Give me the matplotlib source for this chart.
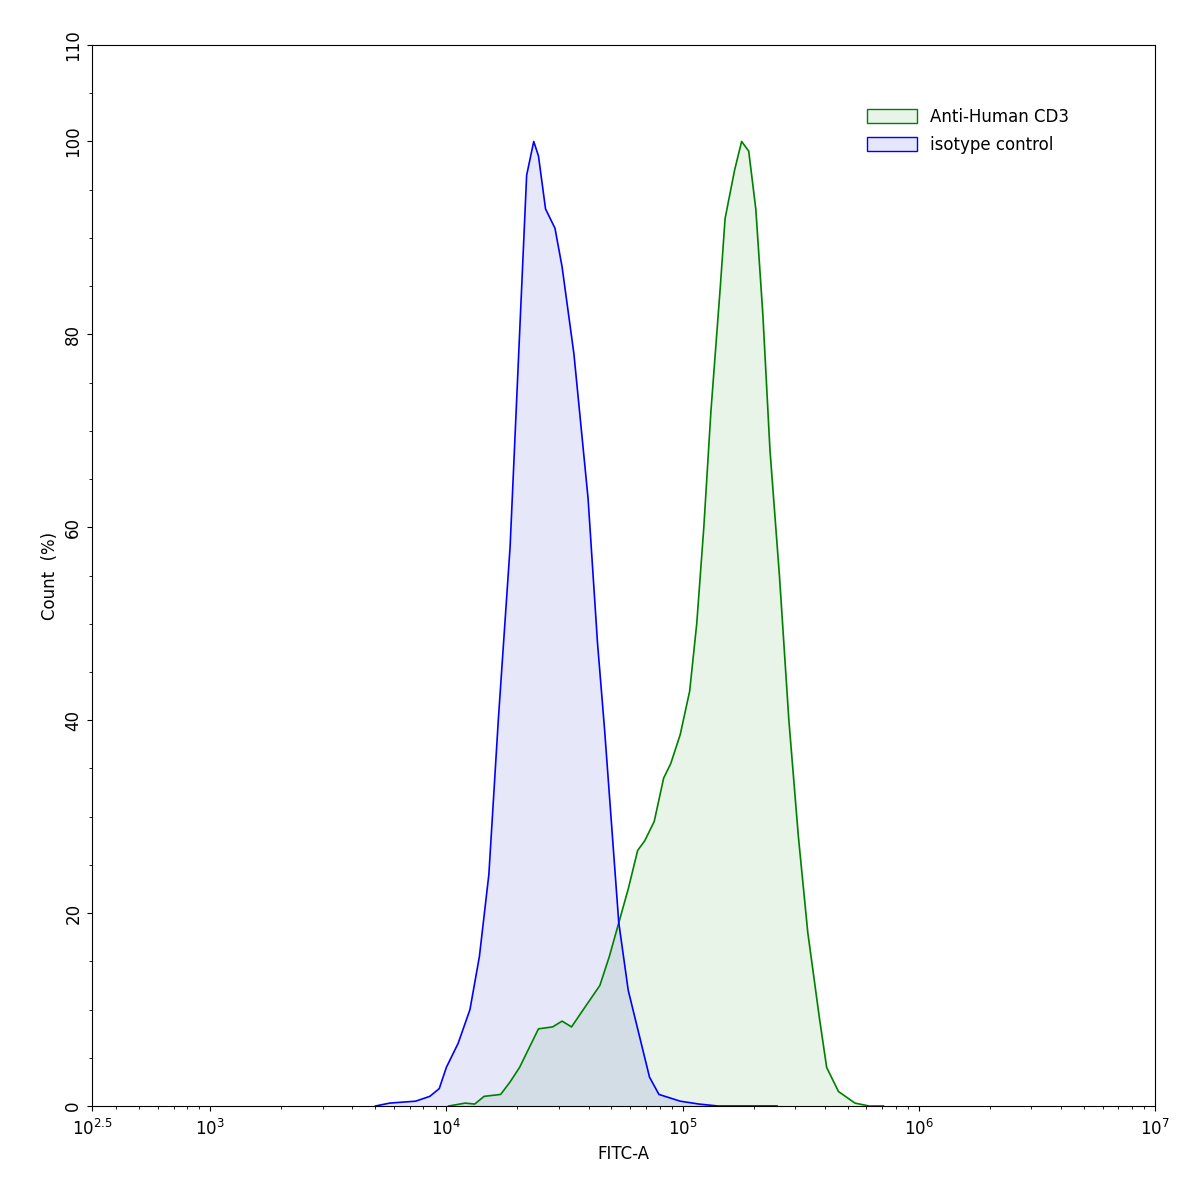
import numpy as np
import matplotlib.pyplot as plt
from matplotlib.ticker import FixedLocator, MultipleLocator, LogLocator, NullFormatter

# log10(FITC-A) and count (%)
iso_logx = [3.70, 3.76, 3.87, 3.93, 3.97, 4.00, 4.05, 4.10, 4.14, 4.18, 4.22, 4.27, 4.31, 4.34, 4.37,
            4.39, 4.42, 4.46, 4.49, 4.54, 4.60, 4.64, 4.67, 4.70, 4.73, 4.77, 4.82, 4.86, 4.90, 4.99,
            5.07, 5.15, 5.40]
iso_y = [0, 0.3, 0.5, 1, 1.8, 4, 6.5, 10, 15.5, 24, 40, 58, 80, 96.5, 100,
         98.5, 93, 91, 87, 78, 63, 48, 39, 29, 19, 12, 7, 3, 1.2, 0.5,
         0.2, 0, 0]
cd3_logx = [4.01, 4.08, 4.12, 4.16, 4.23, 4.27, 4.31, 4.35, 4.39, 4.45, 4.49, 4.53, 4.58, 4.65, 4.69,
            4.73, 4.77, 4.81, 4.84, 4.88, 4.92, 4.95, 4.99, 5.03, 5.06, 5.09, 5.12, 5.16, 5.18, 5.22,
            5.25, 5.28, 5.31, 5.34, 5.37, 5.41, 5.45, 5.49, 5.53, 5.58, 5.61, 5.66, 5.73, 5.79, 5.85]
cd3_y = [0, 0.3, 0.2, 1, 1.2, 2.5, 4, 6, 8, 8.2, 8.8, 8.2, 10, 12.5, 15.5,
         19, 22.5, 26.5, 27.5, 29.5, 34, 35.5, 38.5, 43, 50, 60, 72, 85, 92, 97,
         100, 99, 93, 82, 68, 55, 40, 28, 18, 9, 4, 1.5, 0.3, 0, 0]

fig = plt.figure(figsize=(11.97, 11.93), dpi=100)
ax = fig.add_axes([92/1197, 1-1106/1193, (1155-92)/1197, (1106-45)/1193])

x_cd3 = 10 ** np.array(cd3_logx)
x_iso = 10 ** np.array(iso_logx)
ax.fill_between(x_cd3, cd3_y, color='#e8f4e8')
ax.fill_between(x_iso, iso_y, color='#6060e0', alpha=0.15, lw=0)
ax.plot(x_cd3, cd3_y, color='green', lw=1.2)
ax.plot(x_iso, iso_y, color='blue', lw=1.2)

ax.set_xscale('log')
ax.set_xlim(10**2.5, 1e7)
ax.set_ylim(0, 110)
ax.xaxis.set_major_locator(FixedLocator([10**2.5, 1e3, 1e4, 1e5, 1e6, 1e7]))
ax.set_xticklabels(['$10^{2.5}$', '$10^3$', '$10^4$', '$10^5$', '$10^6$', '$10^7$'])
ax.xaxis.set_minor_locator(LogLocator(base=10, subs=np.arange(2, 10), numticks=20))
ax.xaxis.set_minor_formatter(NullFormatter())
ax.yaxis.set_major_locator(MultipleLocator(20))
ax.yaxis.set_minor_locator(MultipleLocator(5))
ax.set_yticks(list(range(0, 101, 20)) + [110])
plt.setp(ax.get_yticklabels(), rotation=90, va='center')
ax.tick_params(labelsize=12)
ax.tick_params(axis='x', pad=6)
ax.set_xlabel('FITC-A', fontsize=12)
ax.set_ylabel('Count  (%)', fontsize=12)

h1 = plt.Rectangle((0, 0), 1, 1, fc='#e8f4e8', ec='green')
h2 = plt.Rectangle((0, 0), 1, 1, fc='#e6e6fb', ec='blue')
ax.legend([h1, h2], ['Anti-Human CD3', 'isotype control'], loc='upper left',
          bbox_to_anchor=(0.715, 0.955), frameon=False, fontsize=12, handlelength=3,
          handleheight=0.9, labelspacing=0.6)

fig.savefig('out.png', dpi=100)
